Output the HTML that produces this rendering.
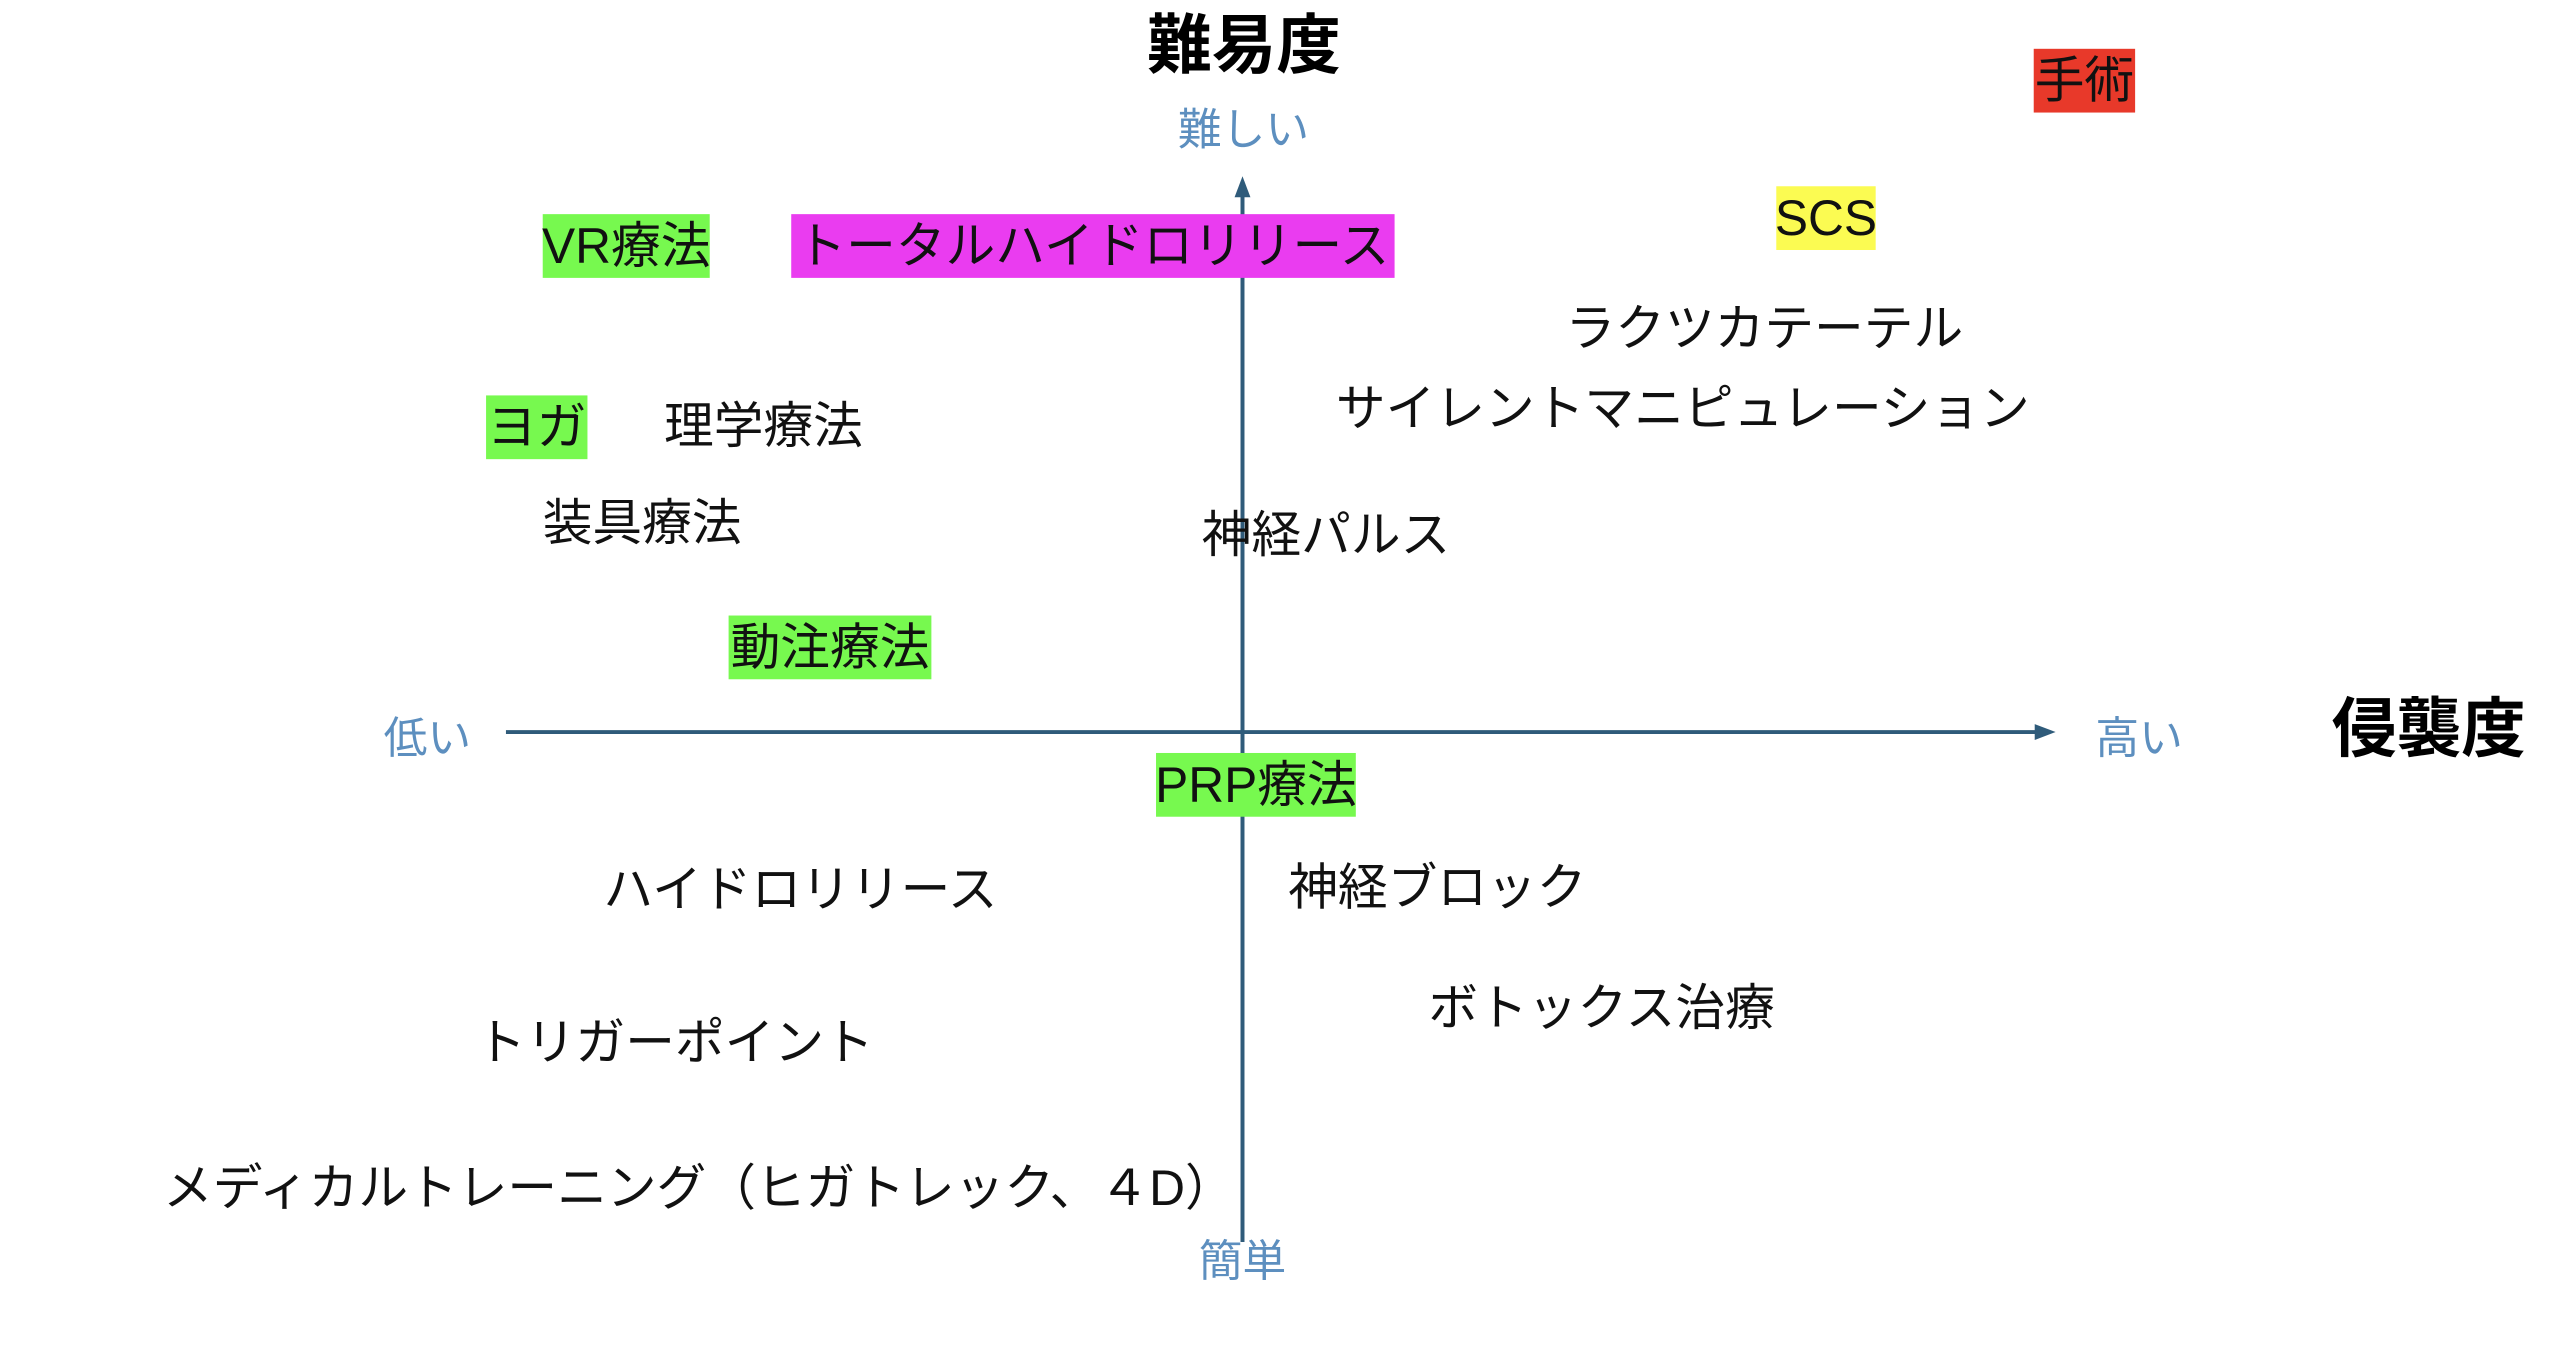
<!DOCTYPE html>
<html><head><meta charset="utf-8"><style>
html,body{margin:0;padding:0;background:#fff;}
body{width:2560px;height:1353px;position:relative;overflow:hidden;font-family:"Liberation Sans","Noto Sans CJK JP",sans-serif;}
#w{position:absolute;left:0;top:0;width:2560px;height:1353px;transform:scale(0.994,0.996);transform-origin:0 0;}
.t{position:absolute;white-space:nowrap;font-size:50px;line-height:64px;height:64px;color:#111;display:flex;align-items:center;}
.b{justify-content:center;}
.ax{color:#5d8fbf;font-size:44px;}
.h{font-weight:bold;font-size:65px;color:#000;}
</style></head><body><div id="w">
<svg width="2560" height="1353" style="position:absolute;left:0;top:0">
<line x1="1250" y1="195" x2="1250" y2="1247" stroke="#2f5b7a" stroke-width="4"/>
<polygon points="1250,177 1242,198 1258,198" fill="#2f5b7a"/>
<line x1="509" y1="735" x2="2050" y2="735" stroke="#2f5b7a" stroke-width="4"/>
<polygon points="2068,735 2047,727 2047,743" fill="#2f5b7a"/>
</svg>
<div class="t h" style="left:1154px;top:14px;">難易度</div>
<div class="t h" style="left:2346px;top:700px;">侵襲度</div>
<div class="t ax" style="left:1185px;top:99px;">難しい</div>
<div class="t ax" style="left:386px;top:710px;">低い</div>
<div class="t ax" style="left:2108px;top:710px;">高い</div>
<div class="t ax" style="left:1206px;top:1235px;">簡単</div>

<div class="t b" style="left:2046px;top:49px;width:102px;background:#e8392a;">手術</div>
<div class="t b" style="left:1787px;top:187px;width:100px;background:#fbfb52;">SCS</div>
<div class="t b" style="left:546px;top:215px;width:168px;background:#77f94f;">VR療法</div>
<div class="t b" style="left:796px;top:215px;width:607px;background:#ea3cf0;">トータルハイドロリリース</div>
<div class="t b" style="left:489px;top:397px;width:102px;background:#77f94f;">ヨガ</div>
<div class="t b" style="left:733px;top:618px;width:204px;background:#77f94f;">動注療法</div>
<div class="t b" style="left:1163px;top:756px;width:201px;background:#77f94f;">PRP療法</div>

<div class="t" style="left:668px;top:396px;">理学療法</div>
<div class="t" style="left:546px;top:493px;">装具療法</div>
<div class="t" style="left:1209px;top:505px;">神経パルス</div>
<div class="t" style="left:1575px;top:298px;">ラクツカテーテル</div>
<div class="t" style="left:1344px;top:378px;">サイレントマニピュレーション</div>
<div class="t" style="left:607px;top:861px;">ハイドロリリース</div>
<div class="t" style="left:1296px;top:859px;">神経ブロック</div>
<div class="t" style="left:1437px;top:980px;">ボトックス治療</div>
<div class="t" style="left:479px;top:1015px;">トリガーポイント</div>
<div class="t" style="left:164px;top:1161px;">メディカルトレーニング（ヒガトレック、４D）</div>
</div></body></html>
